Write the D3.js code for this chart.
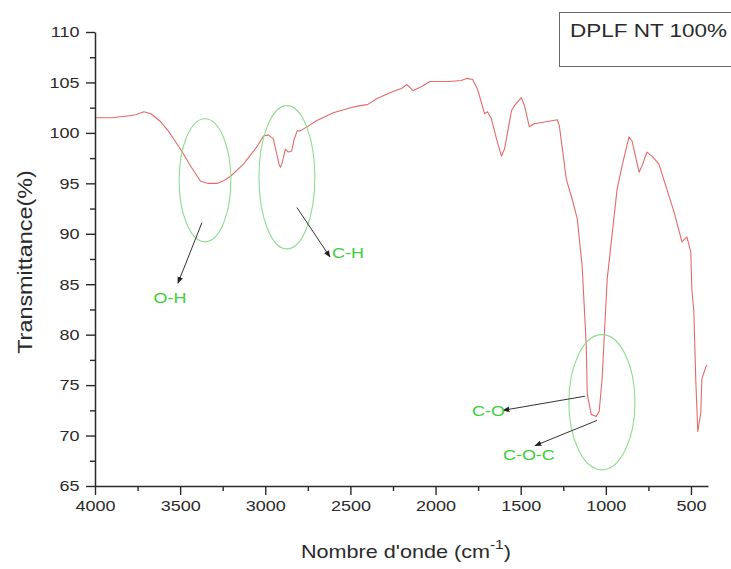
<!DOCTYPE html>
<html>
<head>
<meta charset="utf-8">
<script src="https://cdn.jsdelivr.net/npm/d3@7"></script>
<style>
  html, body { margin: 0; padding: 0; background: #fff; }
  svg { display: block; font-family: "Liberation Sans", Arial, sans-serif; }
</style>
</head>
<body>
<svg id="chart" width="731" height="569"></svg>
<script>
// ---- Data ----
const wavenumbers = [4000,3900,3800,3760,3713,3672,3614,3570,3526,3480,3438,3380,3339,3280,3240,3204,3128,3046,3011,2982,2953,2935,2918,2910,2900,2882,2865,2845,2830,2812,2795,2754,2700,2600,2500,2444,2400,2344,2250,2200,2168,2133,2080,2034,1917,1850,1817,1782,1753,1712,1695,1672,1642,1613,1595,1554,1537,1496,1478,1449,1420,1350,1285,1273,1232,1197,1168,1139,1115,1109,1086,1057,1039,1022,992,934,905,864,846,805,788,758,729,688,647,600,553,524,501,495,483,472,460,442,436,413,405];
const transmittance = [101.5,101.5,101.7,101.8,102.1,101.9,101.1,100.2,99.1,97.9,96.7,95.2,95.0,95.0,95.3,95.7,96.9,98.7,99.7,99.8,99.4,98.1,96.8,96.6,97.1,98.4,98.1,98.2,99.4,100.2,100.2,100.6,101.2,102.0,102.5,102.7,102.8,103.4,104.1,104.4,104.8,104.2,104.6,105.1,105.1,105.2,105.4,105.3,104.3,101.9,102.1,101.4,99.4,97.7,98.4,102.2,102.7,103.5,102.7,100.6,100.9,101.1,101.3,100.7,95.4,93.4,91.5,86.8,78.9,74.1,72.1,71.9,72.4,75.6,85.5,94.4,96.7,99.6,99.2,96.1,96.7,98.1,97.7,96.9,94.7,92.2,89.2,89.7,88.2,84.5,82.3,75.6,70.4,72.3,75.6,76.8,77.0];

const xMajorTicks = [4000,3500,3000,2500,2000,1500,1000,500];
const xMinorTicks = [3750,3250,2750,2250,1750,1250,750];
const yMajorTicks = [65,70,75,80,85,90,95,100,105,110];
const yMinorTicks = [67.5,72.5,77.5,82.5,87.5,92.5,97.5,102.5,107.5];

const seriesName = "DPLF NT 100%";
const xTitle = "Nombre d'onde (cm";
const xTitleSup = "-1";
const yTitle = "Transmittance(%)";

// annotation ellipses: centre (wn, T), radii in data units
const ellipseCx = [3354, 2873, 1023];
const ellipseCy = [95.3, 95.6, 73.3];
const ellipseRx = [152, 164, 194];
const ellipseRy = [6.1, 7.1, 6.7];

// annotation arrows and labels
const annoText = ["O-H", "C-H", "C-O", "C-O-C"];
const arrowFromX = [3372, 2814, 1123, 1052];
const arrowFromY = [91.1, 92.6, 73.9, 71.5];
const arrowToX = [3513, 2620, 1604, 1416];
const arrowToY = [85.1, 87.7, 72.5, 69.0];
const labelX = [3560, 2608, 1592, 1452];
const labelY = [83.7, 88.1, 72.5, 68.1];
const labelAnchor = ["middle", "start", "end", "middle"];

// ---- Layout ----
const svg = d3.select("#chart");
const plotLeft = 95, plotRight = 708, plotTop = 32, plotBottom = 486;
const SX = 1.2; // horizontal stretch of the original picture's text

const x = d3.scaleLinear().domain([4000, 400]).range([plotLeft, plotRight]);
const y = d3.scaleLinear().domain([65, 110]).range([plotBottom, plotTop]);

const axisColor = "#2a2a2a";
const textColor = "#2a2a2a";

// curve
const data = wavenumbers.map((w, i) => ({w, t: transmittance[i]}));
svg.append("path")
  .datum(data)
  .attr("fill", "none")
  .attr("stroke", "#e36a6a")
  .attr("stroke-width", 1.1)
  .attr("stroke-linejoin", "round")
  .attr("d", d3.line().x(d => x(d.w)).y(d => y(d.t)));

// ellipses
ellipseCx.forEach((cx, i) => {
  svg.append("ellipse")
    .attr("cx", x(cx))
    .attr("cy", y(ellipseCy[i]))
    .attr("rx", Math.abs(x(cx + ellipseRx[i]) - x(cx)))
    .attr("ry", Math.abs(y(ellipseCy[i] + ellipseRy[i]) - y(ellipseCy[i])))
    .attr("fill", "none")
    .attr("stroke", "#8fdc8f")
    .attr("stroke-width", 1.1);
});

// arrows
const defs = svg.append("defs");
defs.append("marker")
  .attr("id", "arrow")
  .attr("viewBox", "0 0 10 10")
  .attr("refX", 9).attr("refY", 5)
  .attr("markerWidth", 7).attr("markerHeight", 7)
  .attr("markerUnits", "userSpaceOnUse")
  .attr("orient", "auto")
  .append("path").attr("d", "M0,1 L10,5 L0,9 Z").attr("fill", "#222");

arrowFromX.forEach((fx, i) => {
  svg.append("line")
    .attr("x1", x(fx)).attr("y1", y(arrowFromY[i]))
    .attr("x2", x(arrowToX[i])).attr("y2", y(arrowToY[i]))
    .attr("stroke", "#333")
    .attr("stroke-width", 1)
    .attr("marker-end", "url(#arrow)");
});

// labels
annoText.forEach((t, i) => {
  svg.append("text")
    .attr("transform", `translate(${x(labelX[i])},${y(labelY[i])}) scale(${SX},1)`)
    .attr("text-anchor", labelAnchor[i])
    .attr("dy", "0.35em")
    .attr("font-size", 15)
    .attr("fill", "#3ccf3c")
    .text(t);
});

// axes
const xAxis = svg.append("g").attr("transform", `translate(0,${plotBottom})`)
  .call(d3.axisBottom(x).tickValues(xMajorTicks).tickFormat(d3.format("d")).tickSize(9).tickSizeOuter(0).tickPadding(5));
const xMinor = svg.append("g").attr("transform", `translate(0,${plotBottom})`)
  .call(d3.axisBottom(x).tickValues(xMinorTicks).tickFormat("").tickSize(5).tickSizeOuter(0));
const yAxis = svg.append("g").attr("transform", `translate(${plotLeft},0)`)
  .call(d3.axisLeft(y).tickValues(yMajorTicks).tickFormat(d3.format("d")).tickSize(9).tickSizeOuter(0).tickPadding(5));
const yMinor = svg.append("g").attr("transform", `translate(${plotLeft},0)`)
  .call(d3.axisLeft(y).tickValues(yMinorTicks).tickFormat("").tickSize(5).tickSizeOuter(0));

[xAxis, xMinor, yAxis, yMinor].forEach(g => {
  g.select(".domain").attr("stroke", axisColor).attr("stroke-width", 1.5);
  g.selectAll(".tick line").attr("stroke", axisColor).attr("stroke-width", 1.4);
});
xMinor.select(".domain").remove();
yMinor.select(".domain").remove();

xAxis.selectAll(".tick text")
  .attr("font-size", 15)
  .attr("font-family", "Liberation Sans, Arial, sans-serif")
  .attr("fill", textColor)
  .attr("transform", `scale(${SX},1)`);
yAxis.selectAll(".tick text")
  .attr("font-size", 15)
  .attr("font-family", "Liberation Sans, Arial, sans-serif")
  .attr("fill", textColor)
  .attr("x", -13)
  .attr("transform", `scale(${SX},1)`);

// axis titles
const xt = svg.append("text")
  .attr("transform", `translate(406,558) scale(${SX},1)`)
  .attr("text-anchor", "middle")
  .attr("font-size", 18)
  .attr("fill", textColor);
xt.append("tspan").text(xTitle);
xt.append("tspan").attr("font-size", 13).attr("dy", -9).text(xTitleSup);
xt.append("tspan").attr("dy", 9).text(")");

svg.append("text")
  .attr("transform", `translate(32,262) rotate(-90) scale(${SX},1)`)
  .attr("text-anchor", "middle")
  .attr("font-size", 19.5)
  .attr("fill", textColor)
  .text(yTitle);

// legend box
svg.append("rect")
  .attr("x", 559.5).attr("y", 12.5)
  .attr("width", 200).attr("height", 54)
  .attr("fill", "#fff")
  .attr("stroke", "#6a6a6a")
  .attr("stroke-width", 1);
svg.append("text")
  .attr("transform", `translate(570,37) scale(1.25,1)`)
  .attr("font-size", 18)
  .attr("fill", textColor)
  .text(seriesName);
</script>
</body>
</html>
